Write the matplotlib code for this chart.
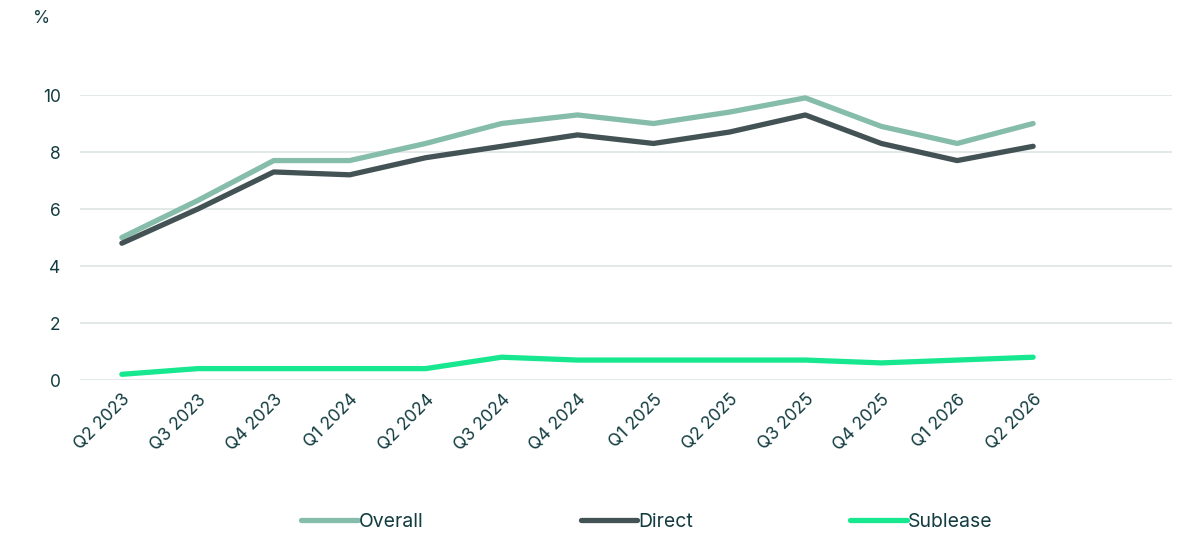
import matplotlib.pyplot as plt
import numpy as np

plt.rcParams['font.family'] = ['Inter', 'DejaVu Sans']

quarters = ['Q2 2023', 'Q3 2023', 'Q4 2023', 'Q1 2024', 'Q2 2024', 'Q3 2024', 'Q4 2024',
            'Q1 2025', 'Q2 2025', 'Q3 2025', 'Q4 2025', 'Q1 2026', 'Q2 2026']
overall = [5.0, 6.3, 7.7, 7.7, 8.3, 9.0, 9.3, 9.0, 9.4, 9.9, 8.9, 8.3, 9.0]
direct = [4.8, 6.0, 7.3, 7.2, 7.8, 8.2, 8.6, 8.3, 8.7, 9.3, 8.3, 7.7, 8.2]
sublease = [0.2, 0.4, 0.4, 0.4, 0.4, 0.8, 0.7, 0.7, 0.7, 0.7, 0.6, 0.7, 0.8]

text_color = '#123c40'
x = np.arange(len(quarters))

fig = plt.figure(figsize=(11.78, 5.35), dpi=100)
ax = fig.add_axes([0.068, 0.2897, 0.927, 0.5327])

ax.plot(x, overall, color='#85bcaa', lw=3.8, solid_capstyle='round', label='Overall', clip_on=False, zorder=3)
ax.plot(x, direct, color='#435254', lw=3.8, solid_capstyle='round', label='Direct', clip_on=False, zorder=4)
ax.plot(x, sublease, color='#17e88f', lw=3.8, solid_capstyle='round', label='Sublease', clip_on=False, zorder=3)

ax.set_ylim(0, 10)
ax.set_xlim(-0.55, 13.83)
ax.set_yticks([0, 2, 4, 6, 8, 10])
ax.set_xticks(x)
ax.set_xticklabels(quarters, rotation=45, ha='right', rotation_mode='anchor')
ax.tick_params(axis='both', length=0, colors=text_color, labelsize=12.5)
ax.tick_params(axis='y', pad=14)
ax.tick_params(axis='x', pad=8)
ax.grid(axis='y', color='#e3e8e8', lw=1.5)
ax.set_axisbelow(True)
for s in ax.spines.values():
    s.set_visible(False)

fig.text(0.028, 0.965, '%', color=text_color, fontsize=12.5, va='center')

leg = fig.legend(loc='center', bbox_to_anchor=(0.549, 0.024), ncol=3, frameon=False,
                 handlelength=2.9, handletextpad=0.05, columnspacing=8.1, fontsize=14)
for t in leg.get_texts():
    t.set_color(text_color)

fig.savefig('out.png', dpi=100)
